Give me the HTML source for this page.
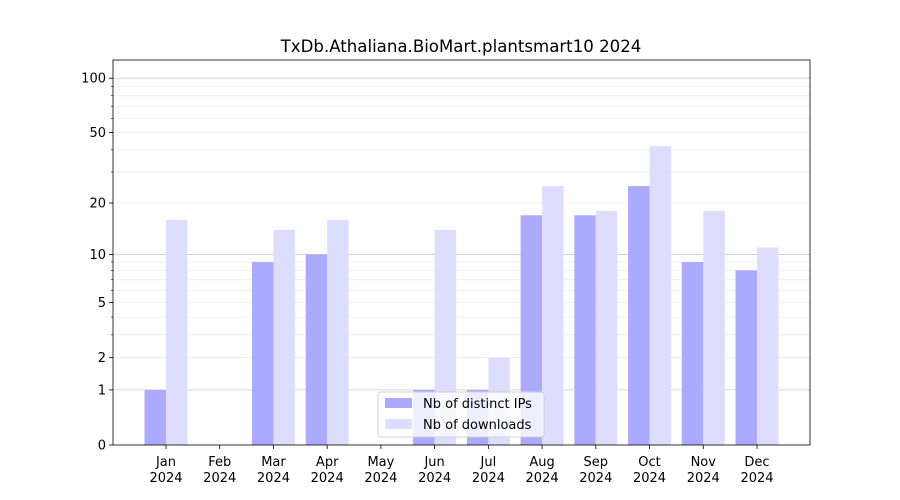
<!DOCTYPE html>
<html><head><meta charset="utf-8">
<style>body{margin:0;background:#fff;}svg{display:block;font-family:"DejaVu Sans","Liberation Sans",sans-serif;}</style>
</head><body>
<svg id="c" width="900" height="500" xmlns="http://www.w3.org/2000/svg"></svg>
<script>
const s=document.getElementById('c');
const L=113,R=810,T=60,B=445,K=183;
const Y=v=>B-K*Math.log10(1+v);
let h='';
const minors=[2,3,4,5,6,7,8,9,20,30,40,50,60,70,80,90];
minors.forEach(v=>{const y=Y(v);h+=`<line x1="${L}" x2="${R}" y1="${y}" y2="${y}" stroke="#ebebeb" stroke-width="0.8"/>`;h+=`<line x1="${L-2}" x2="${L}" y1="${y}" y2="${y}" stroke="#000" stroke-width="0.6"/>`;});
[1,10,100].forEach(v=>{const y=Y(v);h+=`<line x1="${L}" x2="${R}" y1="${y}" y2="${y}" stroke="#cccccc" stroke-width="0.8"/>`;});
const ip=[1,0,9,10,0,1,1,17,17,25,9,8],dl=[16,0,14,16,0,14,2,25,18,42,18,11];
const m=['Jan','Feb','Mar','Apr','May','Jun','Jul','Aug','Sep','Oct','Nov','Dec'];
const sp=(757-166)/11,w=21.5;
for(let i=0;i<12;i++){const c=166+i*sp;
if(ip[i]>0)h+=`<rect x="${c-w}" y="${Y(ip[i])}" width="${w}" height="${B-Y(ip[i])}" fill="#aaaaff"/>`;
if(dl[i]>0)h+=`<rect x="${c}" y="${Y(dl[i])}" width="${w}" height="${B-Y(dl[i])}" fill="#ddddff"/>`;
h+=`<line x1="${c}" x2="${c}" y1="${B}" y2="${B+4}" stroke="#000" stroke-width="0.8"/>`;
h+=`<text x="${c}" y="466" font-size="13" text-anchor="middle">${m[i]}</text><text x="${c}" y="482" font-size="13" text-anchor="middle">2024</text>`;}
[0,1,2,5,10,20,50,100].forEach(v=>{const y=Y(v);h+=`<line x1="${L-4}" x2="${L}" y1="${y}" y2="${y}" stroke="#000" stroke-width="0.8"/>`;h+=`<text x="${L-7}" y="${y+4.5}" font-size="13" text-anchor="end">${v}</text>`;});
h+=`<rect x="${L}" y="${T}" width="${R-L}" height="${B-T}" fill="none" stroke="#000" stroke-width="0.8"/>`;
h+=`<text x="461" y="52" font-size="16.6" text-anchor="middle">TxDb.Athaliana.BioMart.plantsmart10 2024</text>`;
h+=`<rect x="378" y="392" width="166" height="45" rx="3" fill="#fff" fill-opacity="0.8" stroke="#d0d0d0"/>`;
h+=`<rect x="385" y="398" width="27" height="10" fill="#aaaaff"/><text x="423" y="408" font-size="13">Nb of distinct IPs</text>`;
h+=`<rect x="385" y="419" width="27" height="10" fill="#ddddff"/><text x="423" y="429" font-size="13">Nb of downloads</text>`;
s.innerHTML=h;
</script>
</body></html>
